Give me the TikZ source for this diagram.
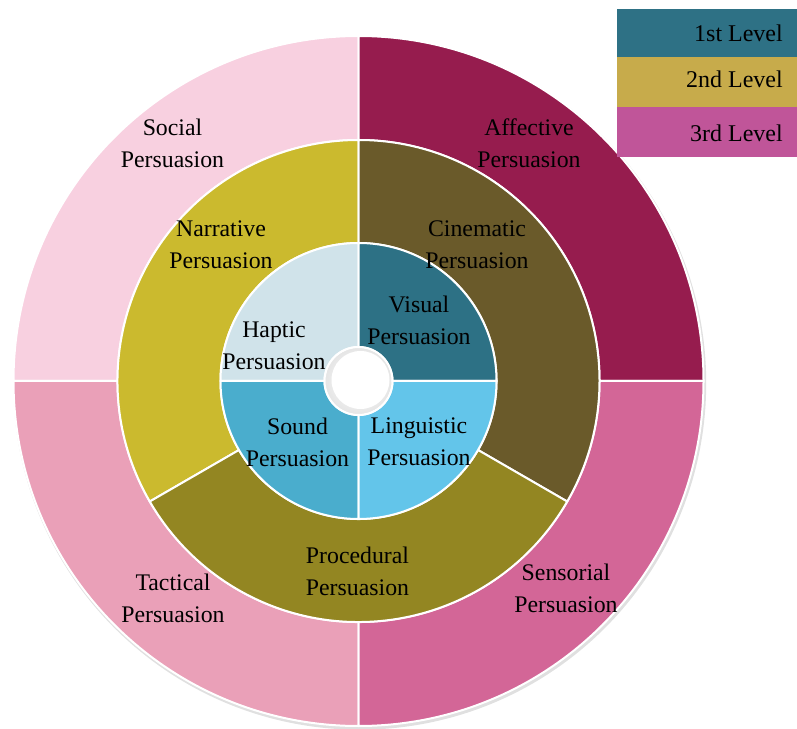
\documentclass[tikz,border=0pt]{standalone}
\usepackage{fontspec}
\setmainfont{Liberation Serif}
\usetikzlibrary{calc}
\definecolor{social}{HTML}{F8D0E0}
\definecolor{affective}{HTML}{961C4E}
\definecolor{tactical}{HTML}{EAA0B8}
\definecolor{sensorial}{HTML}{D36697}
\definecolor{narrative}{HTML}{CBBA2E}
\definecolor{cinematic}{HTML}{6A5A2A}
\definecolor{procedural}{HTML}{938622}
\definecolor{haptic}{HTML}{D0E3EA}
\definecolor{visual}{HTML}{2D7185}
\definecolor{sound}{HTML}{4AADCD}
\definecolor{linguistic}{HTML}{63C5EA}
\definecolor{lvlone}{HTML}{2E7185}
\definecolor{lvltwo}{HTML}{C7AB4B}
\definecolor{lvlthree}{HTML}{C05599}
\begin{document}
\begin{tikzpicture}[x=1pt,y=1pt,
  sector/.style={fill=#1,draw=white,line width=2pt,line join=round},
  lab/.style={align=center,inner sep=0pt,font=\fontsize{23.8}{32}\selectfont},
  legbox/.style={fill=#1,minimum width=180pt,minimum height=50pt,inner sep=0pt,anchor=north west},
  legtext/.style={inner sep=0pt,anchor=east,font=\fontsize{24}{28}\selectfont}]
\useasboundingbox (0,0) rectangle (797,728);
\coordinate (C) at (358.5,347);
% drop shadow
\fill[black!12] ($(C)+(1.2,-2.2)$) circle (346.5);
\begin{scope}[shift={(C)}]
% outer ring
\fill[sector=social]    (90:241) arc[start angle=90,end angle=180,radius=241] -- (180:345) arc[start angle=180,end angle=90,radius=345] -- cycle;
\fill[sector=affective] (0:241) arc[start angle=0,end angle=90,radius=241] -- (90:345) arc[start angle=90,end angle=0,radius=345] -- cycle;
\fill[sector=tactical]  (180:241) arc[start angle=180,end angle=270,radius=241] -- (270:345) arc[start angle=270,end angle=180,radius=345] -- cycle;
\fill[sector=sensorial] (270:241) arc[start angle=270,end angle=360,radius=241] -- (360:345) arc[start angle=360,end angle=270,radius=345] -- cycle;
% middle ring
\fill[sector=narrative]  (90:138) arc[start angle=90,end angle=210,radius=138] -- (210:241) arc[start angle=210,end angle=90,radius=241] -- cycle;
\fill[sector=cinematic]  (-30:138) arc[start angle=-30,end angle=90,radius=138] -- (90:241) arc[start angle=90,end angle=-30,radius=241] -- cycle;
\fill[sector=procedural] (210:138) arc[start angle=210,end angle=330,radius=138] -- (330:241) arc[start angle=330,end angle=210,radius=241] -- cycle;
% inner ring
\fill[sector=haptic]     (90:34) arc[start angle=90,end angle=180,radius=34] -- (180:138) arc[start angle=180,end angle=90,radius=138] -- cycle;
\fill[sector=visual]     (0:34) arc[start angle=0,end angle=90,radius=34] -- (90:138) arc[start angle=90,end angle=0,radius=138] -- cycle;
\fill[sector=sound]      (180:34) arc[start angle=180,end angle=270,radius=34] -- (270:138) arc[start angle=270,end angle=180,radius=138] -- cycle;
\fill[sector=linguistic] (270:34) arc[start angle=270,end angle=360,radius=34] -- (360:138) arc[start angle=360,end angle=270,radius=138] -- cycle;
% hole
\shade[inner color=white,outer color=black!10] (0,0) circle (33);
\fill[white] (2,1) circle (29);
\draw[white,line width=2pt] (0,0) circle (34);
\end{scope}
% labels
\node[lab] (social) at (172.5,584.5) {Social\\Persuasion};
\node[lab] (affective) at (529,584.5) {Affective\\Persuasion};
\node[lab] (narrative) at (221,483.5) {Narrative\\Persuasion};
\node[lab] (cinematic) at (477,483.5) {Cinematic\\Persuasion};
\node[lab] (haptic) at (274,382) {Haptic\\Persuasion};
\node[lab] (visual) at (419,408) {Visual\\Persuasion};
\node[lab] (sound) at (297.5,286) {Sound\\Persuasion};
\node[lab] (linguistic) at (419,286) {Linguistic\\Persuasion};
\node[lab] (procedural) at (357.5,157) {Procedural\\Persuasion};
\node[lab] (tactical) at (173,130) {Tactical\\Persuasion};
\node[lab] (sensorial) at (566,140) {Sensorial\\Persuasion};
% legend
\node[legbox=lvlone] (l1) at (617,719) {};
\node[legbox=lvltwo] (l2) at (617,671) {};
\node[legbox=lvlthree] (l3) at (617,621) {};
\node[legtext] (t1) at (783,695) {1st Level};
\node[legtext] (t2) at (783,649) {2nd Level};
\node[legtext] (t3) at (783,595) {3rd Level};
\end{tikzpicture}
\end{document}
